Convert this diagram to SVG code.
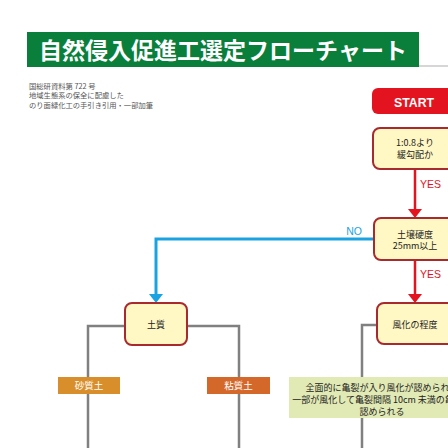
<svg xmlns="http://www.w3.org/2000/svg" width="448" height="448" viewBox="0 0 448 448">
<style>
.jp{font-family:"Noto Sans CJK JP","Noto Sans",sans-serif}
.box{fill:#fff7c4;stroke:#a82a2e;stroke-width:2}
.bt{font-size:9px;fill:#222;text-anchor:middle}
.note{font-size:7.3px;fill:#555}
.red{stroke:#e3141f;stroke-width:2.5;fill:none}
.blue{stroke:#1aa3e0;stroke-width:3;fill:none}
.grey{stroke:#808080;stroke-width:2.5;fill:none}
.lbl{font-size:9.5px;fill:#fff;text-anchor:middle}
.yes{font-size:10.5px;fill:#e3141f;font-family:"Liberation Sans",Arial,sans-serif}
.gt{font-size:9px;fill:#222;text-anchor:middle}
</style>
<rect width="448" height="448" fill="#fff"/>
<g id="title">
<rect x="27" y="32" width="392" height="35" fill="#0a7f3c"/>
<line x1="419" y1="66" x2="448" y2="66" stroke="#c8c8c8" stroke-width="1.5"/>
<text x="223" y="59" class="jp" font-size="23" font-weight="bold" fill="#fff" text-anchor="middle">自然侵入促進工選定フローチャート</text>
</g>
<g id="note" class="jp note">
<text x="29" y="88.5">国総研資料第 722 号</text>
<text x="29" y="98">地域生態系の保全に配慮した</text>
<text x="29" y="107.5">のり面緑化工の手引き引用・一部加筆</text>
</g>
<g id="connectors">
<path class="red" d="M415 169V210"/>
<polygon points="408,209 422,209 415,218" fill="#e3141f"/>
<path class="red" d="M415 260V295"/>
<polygon points="408,294 422,294 415,303" fill="#e3141f"/>
<path class="blue" d="M374 239H156V295"/>
<polygon points="149,294 163,294 156,303" fill="#1aa3e0"/>
<path class="grey" d="M125 326H88V448"/>
<path class="grey" d="M187 326H239V448"/>
<path class="grey" d="M377 325H362V448"/>
<text x="420" y="188" class="yes">YES</text>
<text x="420" y="278" class="yes">YES</text>
<text x="354" y="235" font-size="10.5" fill="#1aa3e0" text-anchor="middle" font-family="Liberation Sans,Arial,sans-serif">NO</text>
</g>
<g id="start">
<rect x="372" y="88" width="90" height="26" rx="6" fill="#e3141f"/>
<text x="414" y="106.5" font-size="12.3" font-weight="bold" fill="#fff" text-anchor="middle" font-family="Liberation Sans,Arial,sans-serif">START</text>
</g>
<g id="q1">
<rect class="box" x="373" y="128" width="84" height="41" rx="7"/>
<text x="415" y="146" class="jp bt">1:0.8より</text>
<text x="415" y="158" class="jp bt">緩勾配か</text>
</g>
<g id="q2">
<rect class="box" x="374" y="218" width="84" height="42" rx="7"/>
<text x="415" y="237.5" class="jp bt">土壌硬度</text>
<text x="415" y="249" class="jp bt">25mm以上</text>
</g>
<g id="soil">
<rect class="box" x="125" y="303" width="62" height="42" rx="7"/>
<text x="156" y="328" class="jp bt">土質</text>
</g>
<g id="weather">
<rect class="box" x="377" y="303" width="80" height="41" rx="7"/>
<text x="415" y="328" class="jp bt">風化の程度</text>
</g>
<g id="sand">
<rect x="58" y="377" width="62" height="17" fill="#d98e2c"/>
<text x="89" y="389" class="jp lbl">砂質土</text>
</g>
<g id="clay">
<rect x="207" y="377" width="63" height="17" fill="#d4682a"/>
<text x="238.5" y="389" class="jp lbl">粘質土</text>
</g>
<g id="crack">
<rect x="289" y="377" width="186" height="41" fill="#e1e9b4"/>
<text x="382" y="390.5" class="jp gt">全面的に亀裂が入り風化が認められる</text>
<text x="382" y="402.5" class="jp gt">一部が風化して亀裂間隔 10cm 未満の亀裂が</text>
<text x="382" y="414.5" class="jp gt">認められる</text>
</g>
</svg>
